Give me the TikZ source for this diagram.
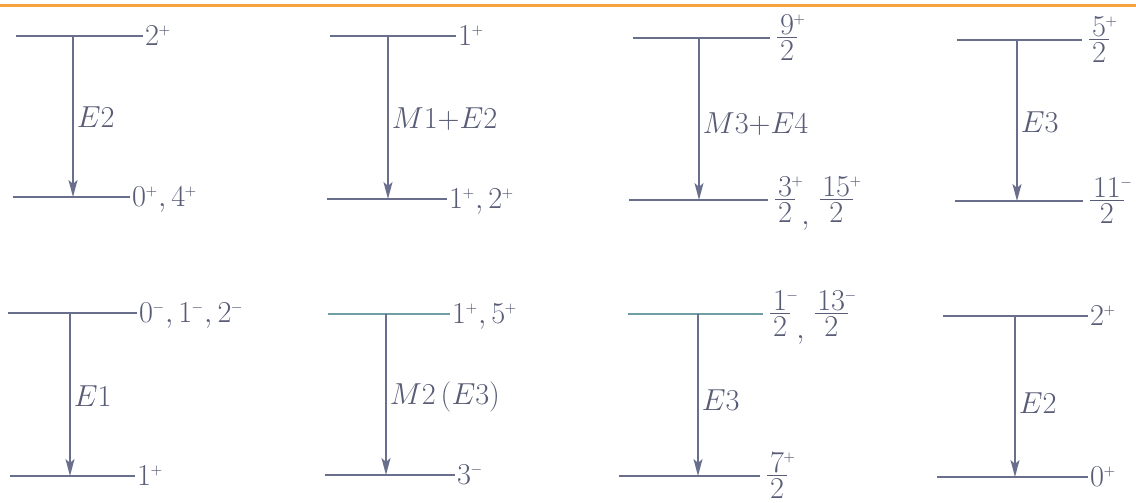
\documentclass[tikz,border=0pt]{standalone}
\usepackage{amsmath}
\usetikzlibrary{arrows.meta}
\definecolor{lvl}{RGB}{105,110,140}
\definecolor{lvlteal}{RGB}{112,158,165}
\definecolor{txt}{RGB}{88,92,118}
\definecolor{topbar}{RGB}{246,162,62}
\newcommand{\up}[1]{^{\kern-0.3pt\scriptscriptstyle #1}}
\newcommand{\fr}[3]{\vcenter{\offinterlineskip\halign{\hfil\kern1.5pt##\kern1.5pt\hfil\cr
  $#1\rlap{\smash{$\up{#3}$}}$\cr\noalign{\kern1.6pt\hrule height 0.7pt\kern1.6pt}$#2$\cr}}}
\newcommand{\lowcomma}{\mskip4mu\raisebox{-9.5pt}{$,$}\mskip6mu}
\begin{document}
\begin{tikzpicture}[x=0.02cm,y=-0.02cm,
 level/.style={draw=lvl,line width=1.1pt},
 tlevel/.style={draw=lvlteal,line width=1.1pt},
 trans/.style={draw=lvl,line width=0.9pt,-{Stealth[length=3.4mm,width=1.8mm,inset=0.8mm]}},
 spin/.style={anchor=base west,inner sep=1pt,yshift=-5.3pt,text=txt,font=\fontsize{17}{20}\selectfont},
 frac/.style={anchor=base west,inner sep=1pt,xshift=3pt,yshift=-4.25pt,text=txt,font=\fontsize{17}{20}\selectfont},
 mult/.style={anchor=west,inner sep=2pt,text=txt,font=\fontsize{17}{20}\selectfont},
]
\useasboundingbox (0,0) rectangle (1136,503);
\coordinate (barl) at (0,5.5); \coordinate (barr) at (1136,5.5);
\draw[draw=topbar,line width=1.7pt] (barl) -- (barr);

% panel 1
\coordinate (a1) at (16,36); \coordinate (b1) at (143,36);
\coordinate (c1) at (13,197); \coordinate (d1) at (130,197);
\draw[level] (a1) -- (b1); \draw[level] (c1) -- (d1);
\node[spin] (u1) at (b1) {$2\up{+}$};
\node[spin] (l1) at (d1) {$0\up{+}, 4\up{+}$};
\coordinate (s1) at (73,36); \coordinate (e1) at (73,197);
\draw[trans] (s1) -- (e1);
\node[mult] (t1) at (73,117) {$E2$};

% panel 2
\coordinate (a2) at (330,36); \coordinate (b2) at (456,36);
\coordinate (c2) at (327,199); \coordinate (d2) at (447,199);
\draw[level] (a2) -- (b2); \draw[level] (c2) -- (d2);
\node[spin] (u2) at (b2) {$1\up{+}$};
\node[spin] (l2) at (d2) {$1\up{+}, 2\up{+}$};
\coordinate (s2) at (388,36); \coordinate (e2) at (388,199);
\draw[trans] (s2) -- (e2);
\node[mult] (t2) at (388,119) {$M1{+}E2$};

% panel 3
\coordinate (a3) at (633,38); \coordinate (b3) at (770,38);
\coordinate (c3) at (629,200); \coordinate (d3) at (768,200);
\draw[level] (a3) -- (b3); \draw[level] (c3) -- (d3);
\node[frac] (u3) at (b3) {$\fr{9}{2}{+}$};
\node[frac] (l3) at (d3) {$\fr{3}{2}{+}\lowcomma\fr{15}{2}{+}$};
\coordinate (s3) at (699,38); \coordinate (e3) at (699,200);
\draw[trans] (s3) -- (e3);
\node[mult] (t3) at (699,124) {$M3{+}E4$};

% panel 4
\coordinate (a4) at (957,40); \coordinate (b4) at (1082,40);
\coordinate (c4) at (955,201); \coordinate (d4) at (1083,201);
\draw[level] (a4) -- (b4); \draw[level] (c4) -- (d4);
\node[frac] (u4) at (b4) {$\fr{5}{2}{+}$};
\node[frac] (l4) at (d4) {$\fr{11}{2}{-}$};
\coordinate (s4) at (1017,40); \coordinate (e4) at (1017,201);
\draw[trans] (s4) -- (e4);
\node[mult] (t4) at (1017,122) {$E3$};

% panel 5
\coordinate (a5) at (8,313); \coordinate (b5) at (137,313);
\coordinate (c5) at (10,476); \coordinate (d5) at (135,476);
\draw[level] (a5) -- (b5); \draw[level] (c5) -- (d5);
\node[spin] (u5) at (b5) {$0\up{-}, 1\up{-}, 2\up{-}$};
\node[spin] (l5) at (d5) {$1\up{+}$};
\coordinate (s5) at (70,313); \coordinate (e5) at (70,476);
\draw[trans] (s5) -- (e5);
\node[mult] (t5) at (70,396) {$E1$};

% panel 6
\coordinate (a6) at (328,314); \coordinate (b6) at (450,314);
\coordinate (c6) at (325,475); \coordinate (d6) at (455,475);
\draw[tlevel] (a6) -- (b6); \draw[level] (c6) -- (d6);
\node[spin] (u6) at (b6) {$1\up{+}, 5\up{+}$};
\node[spin] (l6) at (d6) {$3\up{-}$};
\coordinate (s6) at (386,314); \coordinate (e6) at (386,475);
\draw[trans] (s6) -- (e6);
\node[mult] (t6) at (386,397) {$M2\,(E3)$};

% panel 7
\coordinate (a7) at (628,314); \coordinate (b7) at (763,314);
\coordinate (c7) at (619,476); \coordinate (d7) at (760,476);
\draw[tlevel] (a7) -- (b7); \draw[level] (c7) -- (d7);
\node[frac] (u7) at (b7) {$\fr{1}{2}{-}\lowcomma\fr{13}{2}{-}$};
\node[frac] (l7) at (d7) {$\fr{7}{2}{+}$};
\coordinate (s7) at (698,314); \coordinate (e7) at (698,476);
\draw[trans] (s7) -- (e7);
\node[mult] (t7) at (698,400) {$E3$};

% panel 8
\coordinate (a8) at (943,316); \coordinate (b8) at (1088,316);
\coordinate (c8) at (937,477); \coordinate (d8) at (1088,477);
\draw[level] (a8) -- (b8); \draw[level] (c8) -- (d8);
\node[spin] (u8) at (b8) {$2\up{+}$};
\node[spin] (l8) at (d8) {$0\up{+}$};
\coordinate (s8) at (1015,316); \coordinate (e8) at (1015,477);
\draw[trans] (s8) -- (e8);
\node[mult] (t8) at (1015,403) {$E2$};
\end{tikzpicture}
\end{document}
